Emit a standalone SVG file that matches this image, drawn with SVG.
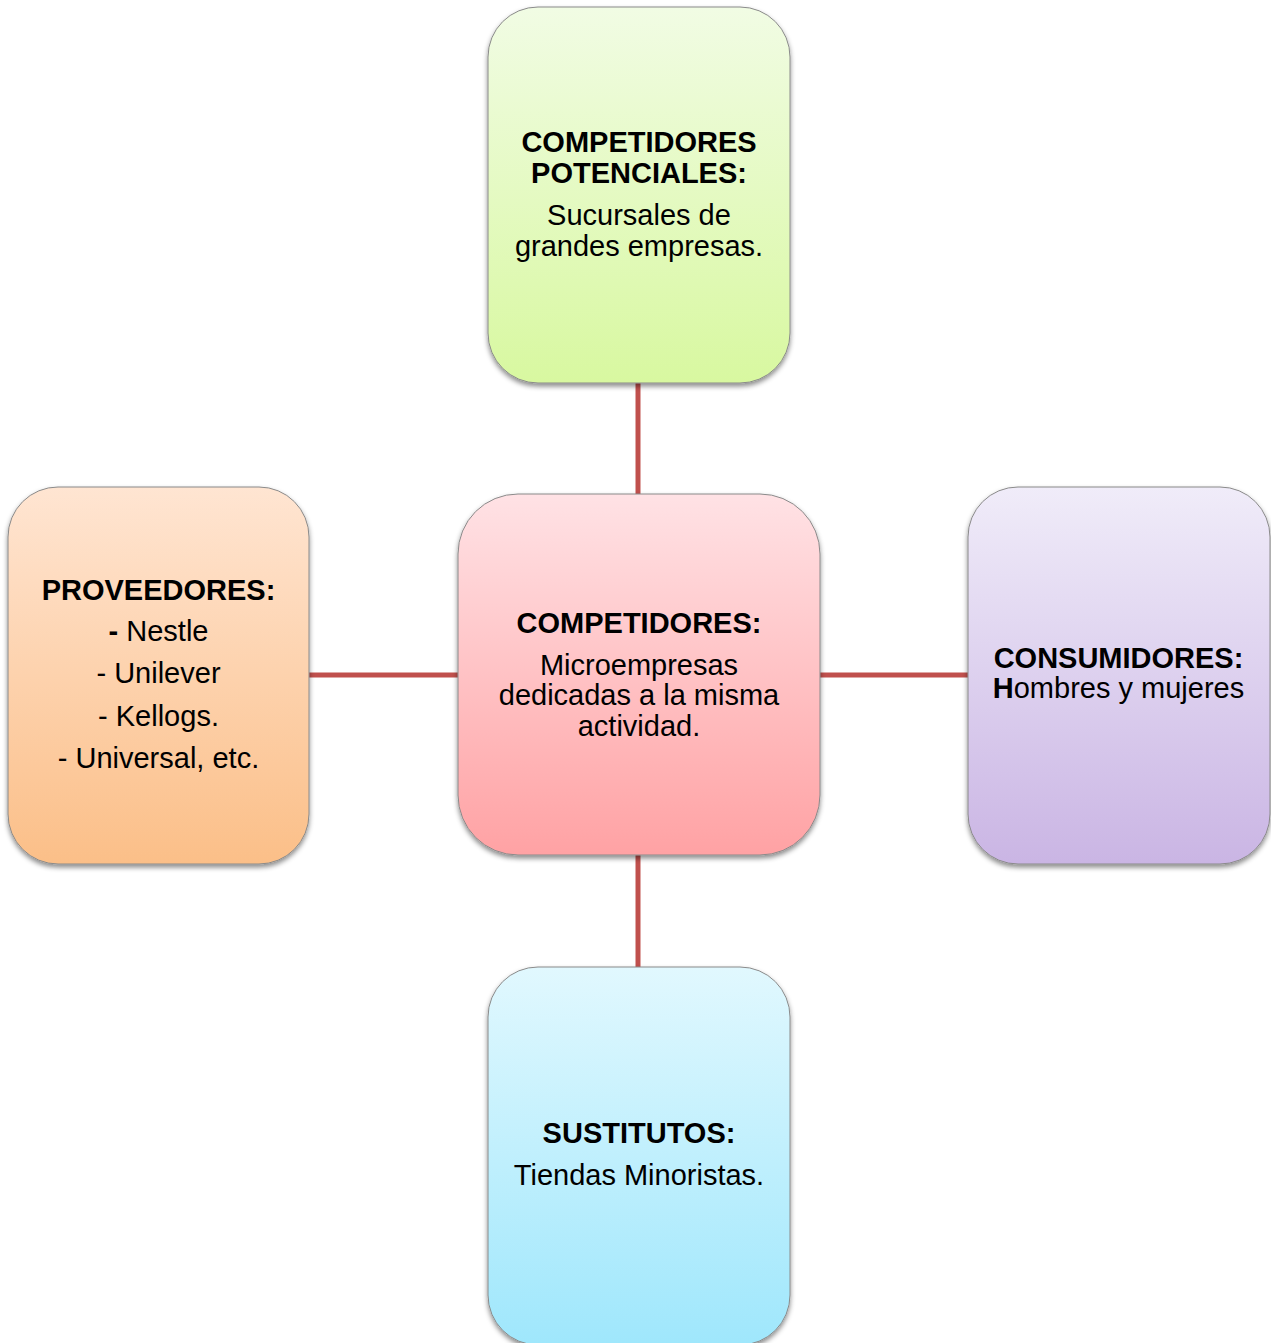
<svg xmlns="http://www.w3.org/2000/svg" width="1271" height="1343" viewBox="0 0 1271 1343">
<style>
.box{stroke:#8a8a8a;stroke-width:1;filter:url(#sh)}
.t{font-family:"Liberation Sans",Arial,sans-serif;font-size:29px;fill:#000;text-anchor:middle}
.b{font-weight:bold}
.c{stroke:#C0504D;stroke-width:5;fill:none}
</style>
<defs>
<filter id="sh" x="-10%" y="-10%" width="120%" height="120%">
<feDropShadow dx="0" dy="3" stdDeviation="2.5" flood-color="#000" flood-opacity="0.45"/>
</filter>
<linearGradient id="gGreen" x1="0" y1="0" x2="0" y2="1"><stop offset="0" stop-color="#F1FCE4"/><stop offset="1" stop-color="#D8F8A0"/></linearGradient>
<linearGradient id="gPink" x1="0" y1="0" x2="0" y2="1"><stop offset="0" stop-color="#FFE2E5"/><stop offset="1" stop-color="#FFA2A4"/></linearGradient>
<linearGradient id="gOrange" x1="0" y1="0" x2="0" y2="1"><stop offset="0" stop-color="#FFE5D2"/><stop offset="1" stop-color="#FBBF88"/></linearGradient>
<linearGradient id="gPurple" x1="0" y1="0" x2="0" y2="1"><stop offset="0" stop-color="#F0ECF9"/><stop offset="1" stop-color="#CAB5E4"/></linearGradient>
<linearGradient id="gCyan" x1="0" y1="0" x2="0" y2="1"><stop offset="0" stop-color="#E1F8FE"/><stop offset="1" stop-color="#9FE7FC"/></linearGradient>
</defs>
<rect width="1271" height="1343" fill="#fff"/>
<g id="connectors">
<line class="c" x1="638" y1="383" x2="638" y2="495"/>
<line class="c" x1="638" y1="855" x2="638" y2="968"/>
<line class="c" x1="309" y1="675" x2="458" y2="675"/>
<line class="c" x1="820" y1="675" x2="968" y2="675"/>
</g>
<g id="potenciales">
<rect class="box" x="488" y="7" width="302" height="376" rx="50" ry="50" fill="url(#gGreen)"/>
<text class="t b" x="639" y="152">COMPETIDORES</text>
<text class="t b" x="639" y="183">POTENCIALES:</text>
<text class="t" x="639" y="225">Sucursales de</text>
<text class="t" x="639" y="256">grandes empresas.</text>
</g>
<g id="competidores">
<rect class="box" x="458" y="494" width="362" height="361" rx="60" ry="60" fill="url(#gPink)"/>
<text class="t b" x="639" y="633">COMPETIDORES:</text>
<text class="t" x="639" y="675">Microempresas</text>
<text class="t" x="639" y="705">dedicadas a la misma</text>
<text class="t" x="639" y="736">actividad.</text>
</g>
<g id="proveedores">
<rect class="box" x="8" y="487" width="301" height="377" rx="50" ry="50" fill="url(#gOrange)"/>
<text class="t b" x="158.5" y="600">PROVEEDORES:</text>
<text class="t" x="158.5" y="641"><tspan class="b">-</tspan> Nestle</text>
<text class="t" x="158.5" y="683">- Unilever</text>
<text class="t" x="158.5" y="726">- Kellogs.</text>
<text class="t" x="158.5" y="768">- Universal, etc.</text>
</g>
<g id="consumidores">
<rect class="box" x="968" y="487" width="302" height="377" rx="50" ry="50" fill="url(#gPurple)"/>
<text class="t b" x="1118.5" y="668">CONSUMIDORES:</text>
<text class="t" x="1118.5" y="698"><tspan class="b">H</tspan>ombres y mujeres</text>
</g>
<g id="sustitutos">
<rect class="box" x="488" y="967" width="302" height="378" rx="50" ry="50" fill="url(#gCyan)"/>
<text class="t b" x="639" y="1143">SUSTITUTOS:</text>
<text class="t" x="639" y="1185">Tiendas Minoristas.</text>
</g>
</svg>
